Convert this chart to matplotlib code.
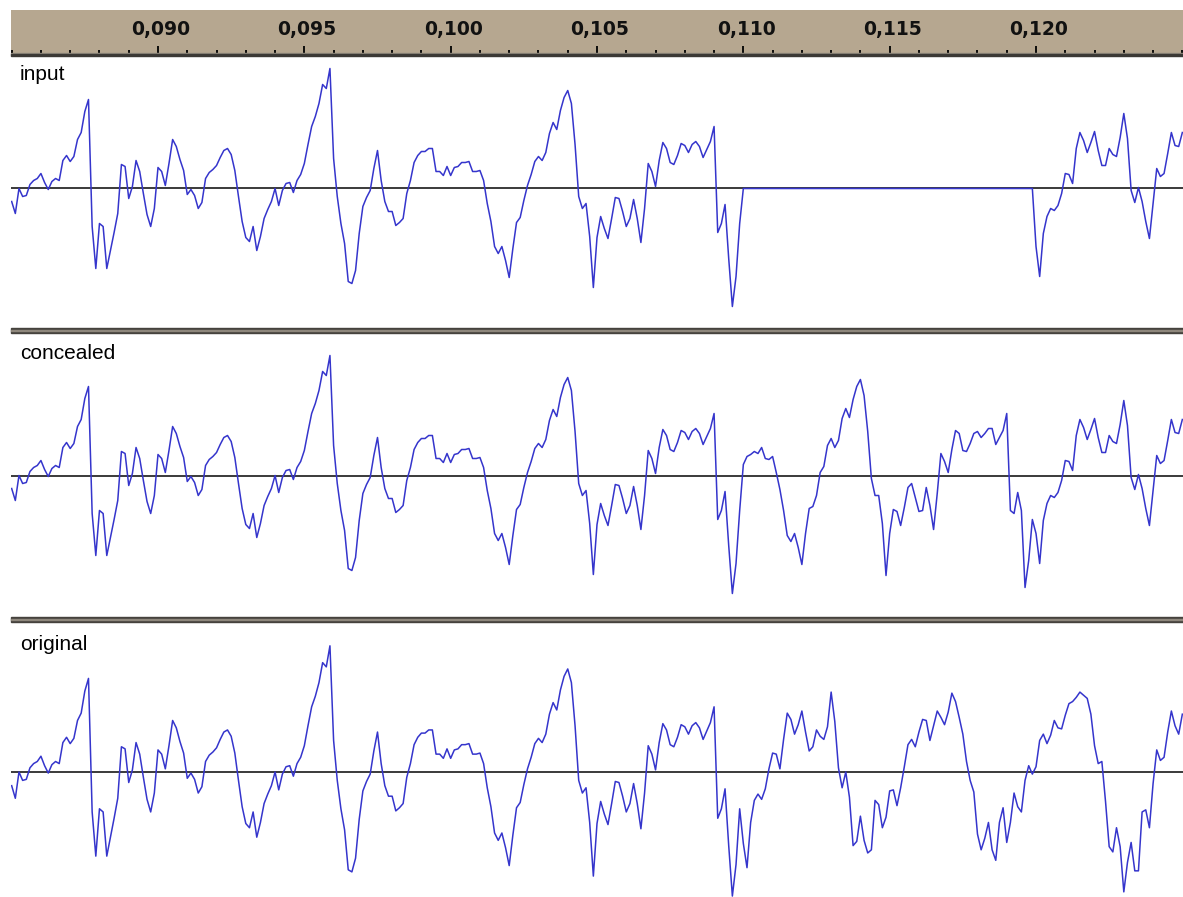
import numpy as np
import matplotlib.pyplot as plt
from matplotlib.patches import Rectangle

# 8 kHz speech, samples 680 .. 1000 (0.085 s .. 0.125 s)
RATE = 8000
FIRST_SAMPLE = 680
GAP_START = 880          # packet lost at 0.110 s
GAP_END = 960            # ... until 0.120 s
FULL_SCALE = 136

# samples 680..879, identical in all three tracks
shared = [
    -13, -25, 0, -8, -7, 4, 8, 10, 15, 6,
    -1, 7, 10, 8, 28, 33, 27, 32, 49, 56,
    77, 89, -38, -80, -35, -38, -80, -62, -44, -25,
    24, 22, -10, 2, 28, 17, -5, -26, -38, -20,
    21, 17, 3, 25, 49, 42, 29, 18, -6, -1,
    -7, -20, -14, 10, 16, 19, 23, 31, 38, 40,
    34, 18, -8, -33, -49, -53, -38, -62, -48, -30,
    -21, -13, 0, -17, -2, 5, 6, -4, 8, 14,
    25, 44, 62, 72, 85, 104, 100, 120, 30, -8,
    -35, -55, -93, -95, -82, -45, -18, -9, -2, 20,
    38, 8, -13, -23, -23, -37, -34, -30, -5, 8,
    26, 33, 37, 37, 40, 40, 17, 17, 13, 22,
    13, 21, 22, 26, 26, 27, 17, 17, 18, 8,
    -15, -33, -58, -65, -58, -72, -89, -60, -34, -29,
    -12, 3, 14, 27, 32, 28, 36, 55, 66, 59,
    78, 91, 98, 85, 44, -8, -20, -15, -48, -99,
    -49, -28, -40, -50, -30, -9, -10, -23, -38, -30,
    -11, -30, -54, -20, 25, 17, 2, 28, 46, 40,
    26, 24, 33, 45, 43, 36, 44, 47, 42, 31,
    39, 47, 62, -44, -35, -16, -70, -118, -88, -35,
]

# samples 960..1000 received after the gap
input_tail = [
    -58, -88, -45, -28, -20, -22, -17, -5, 15, 14,
    5, 40, 56, 48, 36, 46, 57, 38, 23, 23,
    40, 34, 32, 51, 75, 50, -2, -14, 1, -13,
    -33, -50, -15, 20, 12, 15, 35, 56, 43, 42,
    56,
]

# samples 880..959 produced by the concealment
concealed_fill = [
    11, 19, 21, 24, 22, 28, 17, 16, 19, 3,
    -14, -35, -60, -66, -58, -72, -89, -58, -33, -31,
    -20, 3, 9, 30, 37, 28, 35, 57, 67, 58,
    76, 89, 96, 80, 44, -3, -20, -20, -48, -100,
    -58, -34, -36, -50, -32, -12, -8, -22, -36, -35,
    -12, -30, -54, -18, 22, 14, 3, 26, 45, 42,
    25, 24, 32, 42, 44, 38, 42, 47, 47, 31,
    38, 45, 62, -35, -38, -17, -35, -112, -85, -44,
]

# samples 880..1000 of the original signal
original_fill = [
    -68, -91, -48, -27, -21, -26, -16, 3, 18, 17,
    3, 31, 56, 50, 36, 45, 58, 38, 20, 24,
    40, 34, 31, 43, 76, 48, 4, -15, 0, -24,
    -70, -66, -42, -65, -77, -74, -27, -31, -53, -43,
    -18, -17, -32, -15, 5, 26, 31, 24, 38, 50,
    49, 30, 44, 58, 52, 45, 57, 75, 67, 52,
    36, 10, -8, -19, -59, -74, -63, -48, -74, -84,
    -48, -34, -67, -48, -20, -33, -38, -8, 6, -2,
    5, 30, 36, 27, 35, 49, 42, 41, 54, 65,
    67, 71, 76, 73, 70, 55, 25, 8, 10, -28,
    -71, -76, -53, -71, -114, -86, -67, -94, -94, -38,
    -36, -53, -11, 21, 11, 14, 38, 58, 44, 36,
    55,
]

track_names = ["input", "concealed", "original"]
major_ticks = [0.090, 0.095, 0.100, 0.105, 0.110, 0.115, 0.120]

silence = [0] * (GAP_END - GAP_START)
signals = [
    shared + silence + input_tail,
    shared + concealed_fill + input_tail,
    shared + original_fill,
]

W, H = 1183, 897
PX_PER_SEC = 29267
T_LEFT = 0.090 - (158 - 11) / PX_PER_SEC
T_RIGHT = 0.090 + (W - 158) / PX_PER_SEC

fig = plt.figure(figsize=(W / 100, H / 100), dpi=100)
fig.patch.set_facecolor("white")


def px_axes(left, top, right, bottom):
    return fig.add_axes([left / W, 1 - bottom / H, (right - left) / W, (bottom - top) / H])


# time ruler
ruler = px_axes(11, 10, W, 53)
ruler.set_facecolor("#b6a790")
ruler.set_xlim(T_LEFT, T_RIGHT)
ruler.set_ylim(0, 1)
for s in ruler.spines.values():
    s.set_visible(False)
ruler.set_yticks([])
ruler.set_xticks(major_ticks)
ruler.set_xticks(np.arange(85, 126) / 1000, minor=True)
ruler.tick_params(which="major", direction="in", length=5, width=1.3,
                  color="black", labelbottom=False)
ruler.tick_params(which="minor", direction="in", length=2.5, width=1.3,
                  color="black")
for t in major_ticks:
    ruler.annotate(f"{t:.3f}".replace(".", ","), xy=(t, 0.43),
                   xycoords=("data", "axes fraction"), xytext=(2, 0),
                   textcoords="offset points", ha="center", va="baseline",
                   fontsize=13.5, fontweight="bold", family="DejaVu Sans",
                   color="#111111")

# tracks: (top, bottom, zero line) in pixels, and pixels per full scale
track_boxes = [(56, 327, 188.5, 136), (334, 617, 475.5, 136), (623, 897, 772, 143)]
baselines = [79.5, 359, 650]

for name, sig, (top, bottom, zero, scale), base in zip(track_names, signals, track_boxes, baselines):
    ax = px_axes(11, top, W, bottom)
    t = (FIRST_SAMPLE + np.arange(len(sig))) / RATE
    amp = np.array(sig) / FULL_SCALE
    ax.axhline(0, color="#3a3a3a", lw=1.4, zorder=1)
    ax.plot(t, amp, color="#3535cc", lw=1.1, zorder=2)
    ax.set_xlim(T_LEFT, T_RIGHT)
    k = FULL_SCALE / scale
    ax.set_ylim(-(bottom - zero) / FULL_SCALE * k, (zero - top) / FULL_SCALE * k)
    ax.axis("off")
    fig.text(20 / W, 1 - base / H, name, fontsize=15, family="Liberation Sans",
             va="baseline", ha="left", color="black")

# separators drawn in pixel space
ov = fig.add_axes([0, 0, 1, 1], zorder=10)
ov.set_xlim(0, W)
ov.set_ylim(H, 0)
ov.axis("off")
ov.patch.set_alpha(0)
ov.add_patch(Rectangle((11, 53), W - 11, 1.5, color="#958e82"))
ov.add_patch(Rectangle((11, 54.5), W - 11, 2, color="#3b3935"))
for y in (328, 617):
    ov.add_patch(Rectangle((11, y), W - 11, 5, color="#45423d"))
    ov.add_patch(Rectangle((11, y + 2), W - 11, 1.2, color="#8e877c"))

fig.savefig("out.png", dpi=100)
